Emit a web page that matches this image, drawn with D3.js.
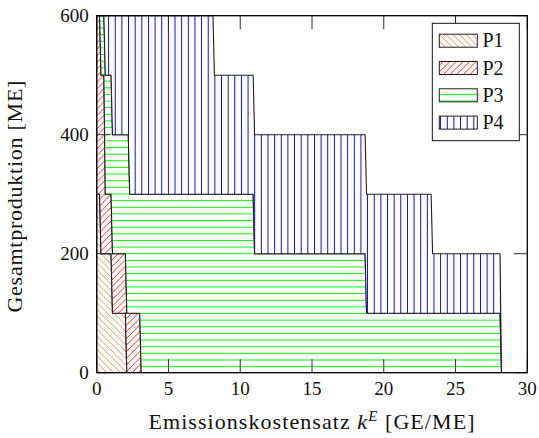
<!DOCTYPE html>
<html><head><meta charset="utf-8">
<script src="https://cdn.jsdelivr.net/npm/d3@7"></script>
<style>body{margin:0;background:#fff} svg{display:block} text{font-family:"Liberation Serif","DejaVu Serif",serif}</style>
</head><body>
<svg id="c" width="539" height="438"></svg>
<script>
// ---- data ----
const products = ["P1", "P2", "P3", "P4"];
const kValues = [0, 0.2, 0.3, 0.5, 0.6, 1.0, 1.1, 2.0, 2.1, 2.2, 2.3, 3.0, 3.1, 8.1, 8.2, 10.9, 11.0, 18.7, 18.8, 23.3, 23.4, 28.1, 28.2];
const prodP1 = [300, 300, 200, 200, 200, 200, 100, 100, 0, 0, 0, 0, 0, 0, 0, 0, 0, 0, 0, 0, 0, 0, 0];
const prodP2 = [300, 300, 300, 300, 100, 100, 100, 100, 100, 100, 100, 100, 0, 0, 0, 0, 0, 0, 0, 0, 0, 0, 0];
const prodP3 = [0, 0, 100, 100, 200, 200, 200, 200, 300, 300, 200, 200, 300, 300, 300, 300, 200, 200, 100, 100, 100, 100, 0];
const prodP4 = [0, 0, 0, 0, 100, 100, 200, 200, 200, 200, 300, 300, 300, 300, 200, 200, 200, 200, 200, 200, 100, 100, 0];
const xTicks = [0, 5, 10, 15, 20, 25, 30];
const yTicks = [0, 200, 400, 600];
const xTitle = ["Emissionskostensatz ", "k", "E", " [GE/ME]"];
const yTitle = "Gesamtproduktion [ME]";

const table = kValues.map((k, i) => ({k, P1: prodP1[i], P2: prodP2[i], P3: prodP3[i], P4: prodP4[i]}));

// ---- layout ----
const L = 96.7, R = 527.3, T = 15.7, B = 372.7;
const svg = d3.select("#c");
const x = d3.scaleLinear().domain([0, 30]).range([L, R]);
const y = d3.scaleLinear().domain([0, 600]).range([B, T]);

// ---- patterns ----
const defs = svg.append("defs");
const s = 6.64;
function pat(id, color, draw) {
  const p = defs.append("pattern").attr("id", id).attr("patternUnits", "userSpaceOnUse")
    .attr("width", s).attr("height", s);
  p.append("rect").attr("width", s).attr("height", s).attr("fill", "#fff");
  draw(p, color);
}
pat("pP1", "#d0883e", (p, c) => p.append("path")
  .attr("d", `M0,0L${s},${s}M${s-1},-1L${s+1},1M-1,${s-1}L1,${s+1}`)
  .attr("stroke", c).attr("stroke-width", 0.9).attr("fill", "none"));
pat("pP2", "#ff0000", (p, c) => p.append("path")
  .attr("d", `M0,${s}L${s},0M-1,1L1,-1M${s-1},${s+1}L${s+1},${s-1}`)
  .attr("stroke", c).attr("stroke-width", 0.9).attr("fill", "none"));
pat("pP3", "#00ff00", (p, c) => p.append("path")
  .attr("d", `M0,1.0H${s}`).attr("stroke", c).attr("stroke-width", 1)
  .attr("shape-rendering", "crispEdges").attr("fill", "none"));
pat("pP4", "#0000ff", (p, c) => {
  p.append("path").attr("d", `M2.06,0V${s}`).attr("stroke", c).attr("stroke-width", 1)
    .attr("shape-rendering", "crispEdges");
});

// ---- areas ----
const stack = d3.stack().keys(products);
const series = stack(table);
const area = d3.area().x(d => x(d.data.k)).y0(d => y(d[0])).y1(d => y(d[1]));
const clip = defs.append("clipPath").attr("id", "plotclip");
clip.append("rect").attr("x", L).attr("y", T).attr("width", R - L).attr("height", B - T);
svg.append("g").attr("clip-path", "url(#plotclip)")
  .selectAll("path").data(series).join("path")
  .attr("d", area)
  .attr("fill", d => `url(#p${d.key})`)
  .attr("stroke", "#1e1e1e").attr("stroke-width", 1.1).attr("stroke-linejoin", "round");

// ---- frame and ticks ----
const tl = 13.5;
const g = svg.append("g").attr("stroke", "#2a2a2a").attr("stroke-width", 1);
xTicks.forEach(t => {
  g.append("line").attr("x1", x(t)).attr("x2", x(t)).attr("y1", B).attr("y2", B - tl);
  g.append("line").attr("x1", x(t)).attr("x2", x(t)).attr("y1", T).attr("y2", T + tl);
});
yTicks.forEach(t => {
  g.append("line").attr("x1", L).attr("x2", L + tl).attr("y1", y(t)).attr("y2", y(t));
  g.append("line").attr("x1", R).attr("x2", R - tl).attr("y1", y(t)).attr("y2", y(t));
});
svg.append("rect").attr("x", L).attr("y", T).attr("width", R - L).attr("height", B - T)
  .attr("fill", "none").attr("stroke", "#000").attr("stroke-width", 1.3);

// ---- tick labels ----
svg.append("g").selectAll("text").data(xTicks).join("text")
  .attr("x", d => x(d)).attr("y", B + 22.5).attr("text-anchor", "middle")
  .attr("font-size", 19).attr("fill", "#111").text(d => d);
svg.append("g").selectAll("text").data(yTicks).join("text")
  .attr("x", L - 8).attr("y", d => y(d) + 6).attr("text-anchor", "end")
  .attr("font-size", 19).attr("fill", "#111").text(d => d);

// ---- axis titles ----
function fitWidth(sel, target) {
  const w = sel.node().getBBox().width;
  const n = sel.text().length;
  if (n > 1) sel.attr("letter-spacing", (target - w) / (n - 1));
}
const xt = svg.append("text").attr("x", (L + R) / 2).attr("y", 429).attr("text-anchor", "middle")
  .attr("font-size", 22).attr("fill", "#111");
xt.append("tspan").text(xTitle[0]);
xt.append("tspan").attr("font-style", "italic").text(xTitle[1]);
xt.append("tspan").attr("font-style", "italic").attr("font-size", 15).attr("dy", -8).text(xTitle[2]);
xt.append("tspan").attr("dy", 8).text(xTitle[3]);
fitWidth(xt, 326);

const yt = svg.append("text").attr("transform", `translate(22,${(T + B) / 2 + 2}) rotate(-90)`)
  .attr("text-anchor", "middle").attr("font-size", 22).attr("fill", "#111")
  .text(yTitle);
fitWidth(yt, 232);

// ---- legend ----
const lg = svg.append("g");
lg.append("rect").attr("x", 432.3).attr("y", 23.3).attr("width", 87).attr("height", 117.4)
  .attr("fill", "#fff").attr("stroke", "#111").attr("stroke-width", 1);
products.forEach((p, i) => {
  const cy = 40.7 + i * 27.3;
  lg.append("rect").attr("x", 439.3).attr("y", cy - 6.5).attr("width", 38).attr("height", 13)
    .attr("fill", `url(#p${p})`).attr("stroke", "#1e1e1e").attr("stroke-width", 1);
  lg.append("text").attr("x", 482.5).attr("y", cy + 6.5)
    .attr("font-size", 20).attr("fill", "#111").text(p);
});
</script>
</body></html>
